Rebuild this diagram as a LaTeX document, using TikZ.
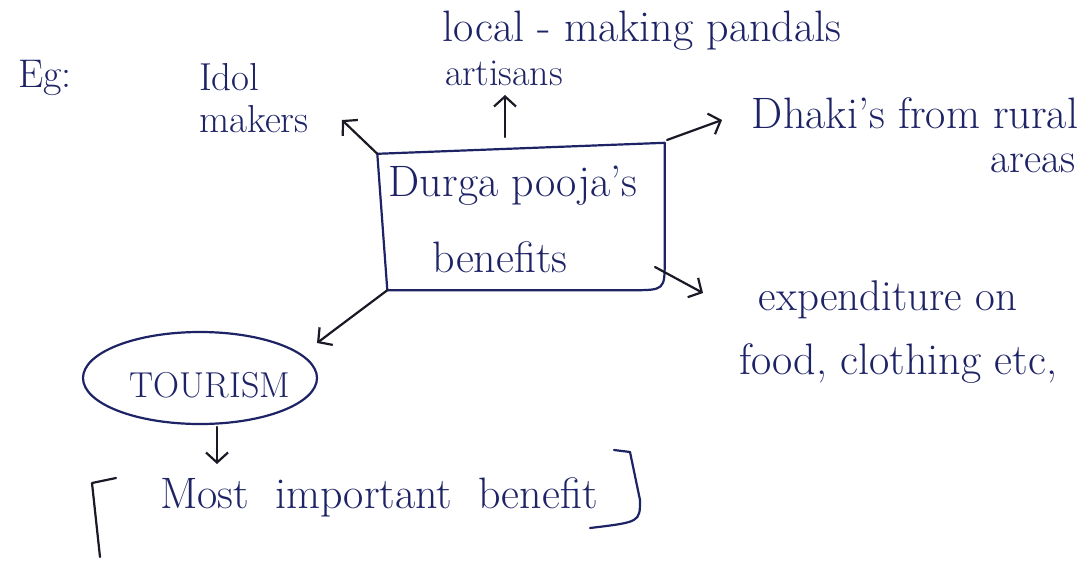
\documentclass[tikz,border=0pt]{standalone}
\usetikzlibrary{arrows.meta,shapes.geometric,calc}
\definecolor{ink}{HTML}{1E2366}
\definecolor{pen}{HTML}{1A1A26}
\begin{document}
\begin{tikzpicture}[x=1pt,y=-1pt,
  txt/.style={text=ink,inner sep=0pt,align=center},
  arr/.style={draw=pen,line width=2.2pt,line cap=round,line join=round,-{Straight Barb[length=10pt,width=22pt,line width=2.2pt]}},
  inkline/.style={draw=ink,line width=2.2pt,line cap=round,line join=round},
  penline/.style={draw=pen,line width=2.2pt,line cap=round,line join=round}]
\useasboundingbox[fill=white] (0,0) rectangle (1083,560);

% texts
\node[txt,font=\fontsize{40}{40}\selectfont] (eg) at (45,78) {Eg:};
\node[txt,align=left,font=\fontsize{39}{42}\selectfont,anchor=west] (idol) at (199,98) {Idol\\makers};
\node[txt,font=\fontsize{44}{44}\selectfont] (local) at (642,31) {local - making pandals};
\node[txt,font=\fontsize{38}{38}\selectfont] (artisans) at (504,73) {artisans};
\node[txt,font=\fontsize{44}{44}\selectfont] (dhaki) at (915,113) {Dhaki's from rural};
\node[txt,font=\fontsize{42}{42}\selectfont] (areas) at (1033,163) {areas};
\node[txt,font=\fontsize{43}{43}\selectfont] (exp) at (888,300) {expenditure on};
\node[txt,font=\fontsize{44}{44}\selectfont] (food) at (898,364) {food, clothing etc,};

% central box
\node[txt,minimum width=285pt,minimum height=142pt,
      font=\fontsize{44}{76}\selectfont] (box) at (522,219)
      {Durga pooja's\hspace*{18pt}\\benefits\hspace*{44pt}};
\draw[inkline] ($(box.north west)+(-2,6)$) -- ($(box.north east)+(0,-5)$)
  -- ($(box.south east)+(0,-30)$) .. controls (box.south east) .. ($(box.south east)+(-34,0)$)
  -- ($(box.south west)+(8,0)$) -- cycle;

% tourism
\node[txt,inkline,ellipse,minimum width=234pt,minimum height=92pt] (tour) at (200,378) {};
\node[txt,font=\fontsize{36}{36}\selectfont] (tourtxt) at (210,385) {TOURISM};

% most important benefit
\node[txt,font=\fontsize{44}{44}\selectfont] (most) at (379,497)
  {Most\hspace{26pt}important\hspace{26pt}benefit};
\coordinate (lb1) at (116,478);
\coordinate (lb2) at (92,483);
\coordinate (lb3) at (100,557);
\coordinate (rb1) at (614,450);
\coordinate (rb2) at (630,452);
\coordinate (rb3) at (640,500);
\coordinate (rb4) at (590,528);
\draw[penline] (lb1) -- (lb2) -- (lb3);
\draw[inkline] (rb1) -- (rb2) -- (rb3) .. controls (640,522) .. (rb4);

% connector end points
\coordinate (tipIdol) at (342,120);
\coordinate (tailArt) at (505,137);
\coordinate (tipArt) at (505,95);
\coordinate (tailDhaki) at (667,140);
\coordinate (tipDhaki) at (722,120);
\coordinate (tailExp) at (655,267);
\coordinate (tipExp) at (703,293);
\coordinate (tipTour) at (317,343);
\coordinate (tailMost) at (217,427);
\coordinate (tipMost) at (217,464);

\draw[arr] ($(box.north west)+(-2,6)$) -- (tipIdol);
\draw[arr] (tailArt) -- (tipArt);
\draw[arr] (tailDhaki) -- (tipDhaki);
\draw[arr] (tailExp) -- (tipExp);
\draw[arr] ($(box.south west)+(8,0)$) -- (tipTour);
\draw[arr] (tailMost) -- (tipMost);
\end{tikzpicture}
\end{document}
